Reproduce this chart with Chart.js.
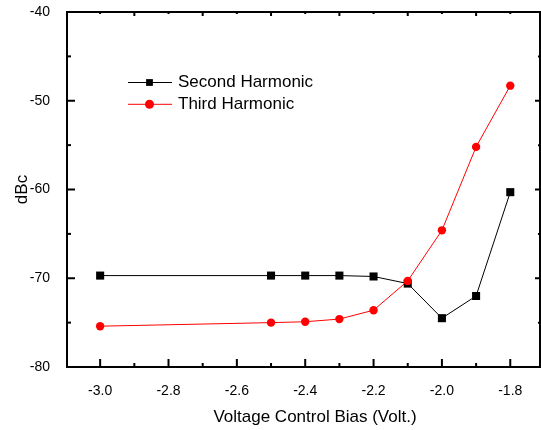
<!DOCTYPE html>
<html>
<head>
<meta charset="utf-8">
<script src="https://cdn.jsdelivr.net/npm/chart.js@4"></script>
<style>
  body { margin: 0; background: #fff; }
  #wrap { width: 541px; height: 430px; }
</style>
</head>
<body>
<div id="wrap"><canvas id="harmonicChart" width="541" height="430"></canvas></div>
<script>
// data
const biasVolts = [-3.0, -2.5, -2.4, -2.3, -2.2, -2.1, -2.0, -1.9, -1.8];
const secondHarmonic = [-69.7, -69.7, -69.7, -69.7, -69.8, -70.6, -74.5, -72.0, -60.3];
const thirdHarmonic = [-75.4, -75.0, -74.9, -74.6, -73.6, -70.3, -64.6, -55.2, -48.3];
const seriesNames = ["Second Harmonic", "Third Harmonic"];

const xTickValues = [-3.0, -2.8, -2.6, -2.4, -2.2, -2.0, -1.8];
const xTickLabels = ["-3.0", "-2.8", "-2.6", "-2.4", "-2.2", "-2.0", "-1.8"];
const yTickValues = [-80, -70, -60, -50, -40];
const yTickLabels = ["-80", "-70", "-60", "-50", "-40"];
const xTitle = "Voltage Control Bias (Volt.)";
const yTitle = "dBc";

const FONT = "'Liberation Sans', Arial, sans-serif";
Chart.defaults.font.family = FONT;
Chart.defaults.color = "#000";

const toPoints = (ys) => biasVolts.map((v, i) => ({ x: v, y: ys[i] }));
const midpoints = (vals) => vals.slice(1).map((v, i) => (v + vals[i]) / 2);

// Origin-style frame, inward ticks, x title and legend
const frameTicks = {
  id: "frameTicks",
  afterDraw(chart) {
    const { ctx, chartArea: a, scales: { x, y } } = chart;
    const line = (x1, y1, x2, y2) => {
      ctx.beginPath();
      ctx.moveTo(x1, y1);
      ctx.lineTo(x2, y2);
      ctx.stroke();
    };
    ctx.save();
    ctx.strokeStyle = "#000";
    ctx.lineWidth = 2;
    ctx.strokeRect(a.left, a.top, a.right - a.left, a.bottom - a.top);

    xTickValues.forEach((v) => {
      const px = x.getPixelForValue(v);
      line(px, a.bottom, px, a.bottom - 8);
      line(px, a.top, px, a.top + 2);
    });
    midpoints(xTickValues).forEach((v) => {
      const px = x.getPixelForValue(v);
      line(px, a.bottom, px, a.bottom - 4);
      line(px, a.top, px, a.top + 4);
    });
    yTickValues.forEach((v) => {
      const py = y.getPixelForValue(v);
      line(a.left, py, a.left + 8, py);
      line(a.right, py, a.right - 5, py);
    });
    midpoints(yTickValues).forEach((v) => {
      const py = y.getPixelForValue(v);
      line(a.left, py, a.left + 4, py);
      line(a.right, py, a.right - 2, py);
    });

    // x axis title
    ctx.fillStyle = "#000";
    ctx.font = "17px " + FONT;
    ctx.textAlign = "center";
    ctx.textBaseline = "alphabetic";
    ctx.fillText(xTitle, 315, 421.5);

    // legend
    ctx.textAlign = "left";
    ctx.textBaseline = "middle";
    chart.data.datasets.forEach((ds, i) => {
      const ly = 82.5 + i * 21.8;
      ctx.strokeStyle = ds.borderColor;
      ctx.lineWidth = 1;
      line(128, ly, 172, ly);
      ctx.fillStyle = ds.pointBackgroundColor;
      Chart.helpers.drawPoint(ctx, {
        pointStyle: ds.pointStyle,
        radius: i === 0 ? 4.8 : 4.5,
        rotation: 0,
        borderWidth: 0,
      }, 149.5, ly);
      ctx.fillStyle = "#000";
      ctx.fillText(ds.label, 178, ly);
    });
    ctx.restore();
  },
};

const ctx = document.getElementById("harmonicChart").getContext("2d");
const chart = new Chart(ctx, {
  type: "line",
  data: {
    datasets: [
      {
        label: seriesNames[0],
        data: toPoints(secondHarmonic),
        borderColor: "#000",
        backgroundColor: "#000",
        pointBackgroundColor: "#000",
        pointStyle: "rect",
        pointRadius: 5.7,
        pointBorderWidth: 0,
        borderWidth: 1,
        order: 1,
      },
      {
        label: seriesNames[1],
        data: toPoints(thirdHarmonic),
        borderColor: "#ff0000",
        backgroundColor: "#ff0000",
        pointBackgroundColor: "#ff0000",
        pointStyle: "circle",
        pointRadius: 4.2,
        pointBorderWidth: 0,
        borderWidth: 1,
        order: 0,
      },
    ],
  },
  options: {
    responsive: false,
    animation: false,
    devicePixelRatio: 1,
    layout: {
      autoPadding: false,
      padding: { top: 12, right: 1, left: 0, bottom: 0 },
    },
    plugins: {
      legend: { display: false },
      tooltip: { enabled: false },
    },
    scales: {
      x: {
        type: "linear",
        min: -3.097,
        max: -1.713,
        grid: { display: false },
        border: { display: false },
        afterBuildTicks: (s) => {
          s.ticks = xTickValues.map((v) => ({ value: v }));
        },
        afterFit: (s) => {
          s.height = 63;
          s.paddingLeft = 0;
          s.paddingRight = 0;
        },
        ticks: {
          autoSkip: false,
          maxRotation: 0,
          padding: 8,
          font: { size: 14 },
          callback: (v, i) => xTickLabels[i],
        },
      },
      y: {
        type: "linear",
        min: -80,
        max: -40,
        grid: { display: false },
        border: { display: false },
        afterBuildTicks: (s) => {
          s.ticks = yTickValues.map((v) => ({ value: v }));
        },
        afterFit: (s) => {
          s.width = 67;
          s.paddingTop = 0;
          s.paddingBottom = 0;
        },
        ticks: {
          padding: 9,
          font: { size: 14 },
          callback: (v, i) => yTickLabels[i],
        },
        title: {
          display: true,
          text: yTitle,
          font: { size: 17 },
          padding: { top: 12, bottom: 0 },
        },
      },
    },
  },
  plugins: [frameTicks],
});
</script>
</body>
</html>
